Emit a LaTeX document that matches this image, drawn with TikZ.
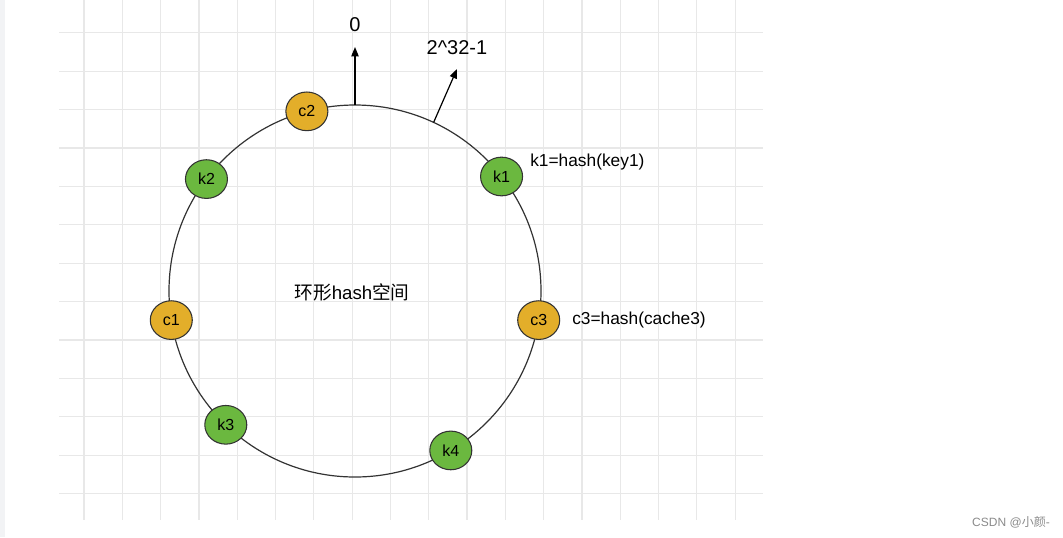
\documentclass[tikz,border=0pt]{standalone}
\usepackage{fontspec}
\setmainfont{Liberation Sans}
\newfontfamily\cjkfont{Noto Sans CJK SC}
\usetikzlibrary{arrows.meta,shapes.geometric}

\definecolor{gridGray}{HTML}{E8E8E8}
\definecolor{stripGray}{HTML}{F2F3F5}
\definecolor{ringLine}{HTML}{333333}
\definecolor{cacheOrange}{HTML}{E3AE2A}
\definecolor{keyGreen}{HTML}{6BB83F}
\definecolor{markGray}{HTML}{8A8A8A}

\begin{document}
\begin{tikzpicture}[x=0.75pt,y=-0.75pt,font=\fontsize{13}{15}\selectfont,
  hashnode/.style={ellipse,draw=ringLine,line width=0.8pt,minimum width=31.5pt,
    minimum height=29pt,inner sep=0pt,font=\fontsize{12}{14}\selectfont},
  ptr/.style={-{Triangle[length=7pt,width=5.5pt]},black,line width=0.9pt}]
  \useasboundingbox (0,0) rectangle (1063,537);
  \fill[stripGray] (0,0) rectangle (5,537);
  \foreach \i in {0,...,17} {
    \draw[gridGray,line width=0.9pt] (84+38.3*\i,0) -- (84+38.3*\i,520);
  }
  \foreach \j in {0,...,12} {
    \draw[gridGray,line width=0.9pt] (59,32.7+38.4*\j) -- (763,32.7+38.4*\j);
  }

  \node[circle,draw=ringLine,line width=0.9pt,minimum size=279pt,inner sep=0pt,
    outer sep=0pt] (ring) at (355,291) {};
  \node (space) at (352,292) {\fontsize{14}{16}\selectfont\cjkfont 环形\rmfamily hash\cjkfont 空间};

  \coordinate (zeroTip) at (355,47);
  \coordinate (maxTip) at (457,69);
  \draw[ptr] (ring.90) -- (zeroTip);
  \draw[ptr] (ring.65.8) -- (maxTip);
  \node[font=\fontsize{15}{17}\selectfont] (zero) at (355,25) {0};
  \node[font=\fontsize{15}{17}\selectfont] (max) at (457,48) {2\^{}32-1};

  \foreach \ang/\name/\col in {105/c2/cacheOrange,143.5/k2/keyGreen,189/c1/cacheOrange,
    226/k3/keyGreen,301.6/k4/keyGreen,351/c3/cacheOrange,38.4/k1/keyGreen} {
    \node[hashnode,fill=\col] (\name) at (ring.\ang) {\name};
  }

  \node[anchor=west,inner sep=0pt] (k1hash) at (530,162) {k1=hash(key1)};
  \node[anchor=west,inner sep=0pt] (c3hash) at (572,320) {c3=hash(cache3)};

  \node[anchor=east,inner sep=0pt,text=markGray,font=\fontsize{9}{11}\selectfont]
    (mark) at (1050,522) {CSDN @{\cjkfont 小颜}-};
\end{tikzpicture}
\end{document}
